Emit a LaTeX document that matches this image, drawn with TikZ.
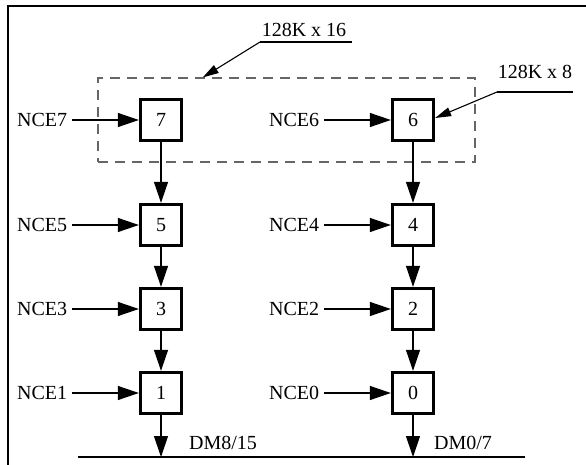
\documentclass[tikz,border=0pt]{standalone}
\usepackage{fontspec}
\setmainfont{Liberation Serif}
\usetikzlibrary{arrows.meta,calc}
\begin{document}
\begin{tikzpicture}[x=1pt,y=-1pt,
  chip/.style={draw,line width=2.8pt,minimum size=41.5pt,inner sep=0pt,font=\fontsize{20}{24}\selectfont},
  lbl/.style={inner sep=0pt,font=\fontsize{20}{24}\selectfont},
  arr/.style={line width=1.2pt,-{Triangle[length=21pt,width=14pt]}},
  ldr/.style={line width=1.1pt,-{Triangle[length=16pt,width=9pt]}},
  grpbox/.style={draw=black!60,line width=1.1pt,dash pattern=on 10pt off 7pt,minimum width=377pt,minimum height=84pt,inner sep=0pt},
  frame/.style={line width=2.8pt}]
\useasboundingbox (0,0) rectangle (586,465);
% frame
\coordinate (fa) at (8,465);
\coordinate (fb) at (8,6);
\coordinate (fc) at (586,6);
\draw[frame] (fa) -- (fb) -- (fc);
% group box
\node[grpbox] (grp) at (286.5,120) {};
% chips
\node[chip] (b7) at (161,120) {7};
\node[chip] (b5) at (161,225) {5};
\node[chip] (b3) at (161,309) {3};
\node[chip] (b1) at (161,393) {1};
\node[chip] (b6) at (413,120) {6};
\node[chip] (b4) at (413,225) {4};
\node[chip] (b2) at (413,309) {2};
\node[chip] (b0) at (413,393) {0};
% labels
\node[lbl,anchor=west] (n7) at (17,120) {NCE7};
\node[lbl,anchor=west] (n5) at (17,225) {NCE5};
\node[lbl,anchor=west] (n3) at (17,309) {NCE3};
\node[lbl,anchor=west] (n1) at (17,393) {NCE1};
\node[lbl,anchor=west] (n6) at (269,120) {NCE6};
\node[lbl,anchor=west] (n4) at (269,225) {NCE4};
\node[lbl,anchor=west] (n2) at (269,309) {NCE2};
\node[lbl,anchor=west] (n0) at (269,393) {NCE0};
\foreach \n/\b in {n7/b7,n5/b5,n3/b3,n1/b1,n6/b6,n4/b4,n2/b2,n0/b0}{
  \draw[arr,shorten <=5pt] (\n.east) -- (\b.west);
}
% vertical chain
\draw[arr] (b7.south) -- (b5.north);
\draw[arr] (b5.south) -- (b3.north);
\draw[arr] (b3.south) -- (b1.north);
\draw[arr] (b6.south) -- (b4.north);
\draw[arr] (b4.south) -- (b2.north);
\draw[arr] (b2.south) -- (b0.north);
% bus
\coordinate (busl) at (78,457);
\coordinate (busr) at (525,457);
\draw[line width=1.2pt] (busl) -- (busr);
\draw[arr] (b1.south) -- (b1.south |- busl);
\draw[arr] (b0.south) -- (b0.south |- busl);
\node[lbl,anchor=west] (dm1) at (189,443) {DM8/15};
\node[lbl,anchor=west] (dm0) at (434,443) {DM0/7};
% annotations
\node[lbl] (t16) at (304,30) {128K x 16};
\coordinate (l16a) at (260,42);
\coordinate (l16b) at (352,42);
\coordinate (tip16) at ($(grp.north west)!0.2785!(grp.north east)$);
\draw[line width=1.1pt] (l16b) -- (l16a);
\draw[ldr] (l16a) -- (tip16);
\node[lbl] (t8) at (535,72) {128K x 8};
\coordinate (l8a) at (497,92);
\coordinate (l8b) at (573,92);
\draw[line width=1.1pt] (l8b) -- (l8a);
\draw[ldr] (l8a) -- ([yshift=2pt]b6.east);
\end{tikzpicture}
\end{document}
